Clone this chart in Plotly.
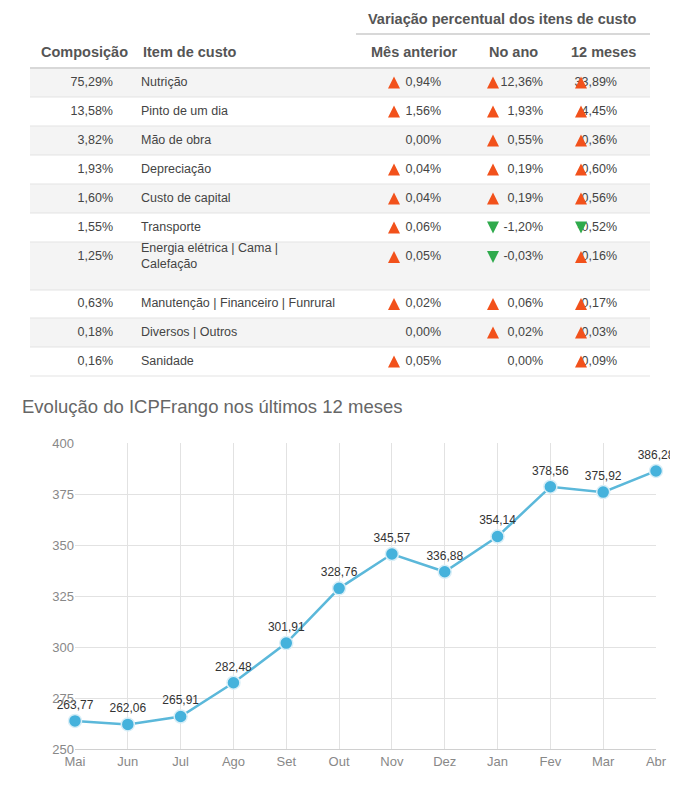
import plotly.graph_objects as go

# tabela de custos
composicao = ["75,29%", "13,58%", "3,82%", "1,93%", "1,60%", "1,55%", "1,25%", "0,63%", "0,18%", "0,16%"]
itens = ["Nutrição", "Pinto de um dia", "Mão de obra", "Depreciação", "Custo de capital", "Transporte",
         "Energia elétrica | Cama |<br>Calefação", "Manutenção | Financeiro | Funrural", "Diversos | Outros", "Sanidade"]
mes_anterior = [0.94, 1.56, 0.00, 0.04, 0.04, 0.06, 0.05, 0.02, 0.00, 0.05]
no_ano = [12.36, 1.93, 0.55, 0.19, 0.19, -1.20, -0.03, 0.06, 0.02, 0.00]
doze_meses = [33.89, 4.45, 0.36, 0.60, 0.56, -0.52, 0.16, 0.17, 0.03, 0.09]

# grafico
meses = ["Mai", "Jun", "Jul", "Ago", "Set", "Out", "Nov", "Dez", "Jan", "Fev", "Mar", "Abr"]
icp = [263.77, 262.06, 265.91, 282.48, 301.91, 328.76, 345.57, 336.88, 354.14, 378.56, 375.92, 386.28]

FONT = "Liberation Sans"
W, H = 678, 786
TAB_H = 372

alturas = [29, 29, 29, 29, 29, 29, 48, 28, 29, 29]
topo = 60
centros, limites = [], [topo]
for i, h in enumerate(alturas):
    centros.append(topo + (h / 2 if i != 6 else 15))
    topo += h
    limites.append(topo)


def fmt(v):
    return ("%.2f" % v).replace(".", ",") + "%"


fig = go.Figure()
shapes = []
for i in range(len(alturas)):
    if i % 2 == 0:
        shapes.append(dict(type="rect", xref="x2", yref="y2", x0=22, x1=642, y0=limites[i], y1=limites[i + 1],
                           fillcolor="#f4f4f4", line_width=0, layer="below"))
    shapes.append(dict(type="line", xref="x2", yref="y2", x0=22, x1=642, y0=limites[i + 1], y1=limites[i + 1],
                       line=dict(color="#e3e3e3", width=1)))
shapes.append(dict(type="line", xref="x2", yref="y2", x0=22, x1=642, y0=60, y1=60, line=dict(color="#d8d8d8", width=2)))
shapes.append(dict(type="line", xref="x2", yref="y2", x0=348, x1=642, y0=26, y1=26, line=dict(color="#d8d8d8", width=2)))

cell = dict(family=FONT, size=12.5, color="#444")
fig.add_trace(go.Scatter(x=[105] * 10, y=centros, text=composicao, mode="text", textposition="middle left",
                         textfont=cell, xaxis="x2", yaxis="y2", hoverinfo="skip"))
fig.add_trace(go.Scatter(x=[133] * 10, y=centros, text=itens, mode="text", textposition="middle right",
                         textfont=cell, xaxis="x2", yaxis="y2", hoverinfo="skip"))

for vals, xv, xa in [(mes_anterior, 433, 386), (no_ano, 535, 485), (doze_meses, 609, 573)]:
    fig.add_trace(go.Scatter(x=[xv] * 10, y=centros, text=[fmt(v) for v in vals], mode="text",
                             textposition="middle left", textfont=cell, xaxis="x2", yaxis="y2", hoverinfo="skip"))
    # simbolos arrow tem a ponta no ponto: desloca meia altura
    for sinal, cor, simb, desl in [(1, "#f2511b", "arrow-up", -6), (-1, "#2faa4c", "arrow-down", 6)]:
        ys = [c + desl for c, v in zip(centros, vals) if v * sinal > 0]
        fig.add_trace(go.Scatter(x=[xa] * len(ys), y=ys, mode="markers", xaxis="x2", yaxis="y2", hoverinfo="skip",
                                 marker=dict(symbol=simb, size=12, color=cor, line=dict(width=0))))

head = dict(family=FONT, size=14.5, color="#555", weight="bold")
cabecalhos = [("Variação percentual dos itens de custo", 494, 11), ("Composição", 76, 44),
              ("Item de custo", 182, 44), ("Mês anterior", 406, 44), ("No ano", 505, 44), ("12 meses", 595, 44)]
annotations = [dict(text=t, x=x, y=y, xref="x2", yref="y2", showarrow=False, font=head) for t, x, y in cabecalhos]

fig.add_trace(go.Scatter(x=list(range(12)), y=icp, mode="lines+markers+text",
                         text=[("%.2f" % v).replace(".", ",") for v in icp],
                         textposition="top center", textfont=dict(family=FONT, size=12, color="#333"),
                         line=dict(color="#5bb8da", width=2.5),
                         marker=dict(size=13, color="#45b2dc", line=dict(color="#d8eef7", width=1.5)),
                         hoverinfo="skip"))
annotations.append(dict(text="Evolução do ICPFrango nos últimos 12 meses", x=12 / W, y=1 - 398 / H,
                        xref="paper", yref="paper", xanchor="left", showarrow=False,
                        font=dict(family=FONT, size=18.5, color="#666")))

fig.update_layout(
    width=W, height=H, margin=dict(l=0, r=0, t=0, b=0, autoexpand=False),
    paper_bgcolor="white", plot_bgcolor="white",
    showlegend=False, shapes=shapes, annotations=annotations,
    xaxis=dict(domain=[67 / W, 648 / W], range=[0, 11], tickvals=list(range(12)), ticktext=meses,
               showgrid=True, gridcolor="#e2e2e2", zeroline=False, showline=True, linecolor="#d0d0d0",
               tickfont=dict(family=FONT, size=13, color="#888"), anchor="y", automargin=False),
    yaxis=dict(domain=[1 - 741 / H, 1 - 435 / H], range=[250, 400], dtick=25, showgrid=True, gridcolor="#e2e2e2",
               zeroline=False, tickfont=dict(family=FONT, size=13, color="#888"), anchor="x", automargin=False),
    xaxis2=dict(domain=[0, 1], range=[0, W], visible=False, anchor="y2"),
    yaxis2=dict(domain=[1 - TAB_H / H, 1], range=[TAB_H, 0], visible=False, anchor="x2"),
)
fig.update_traces(cliponaxis=False)

fig.write_html("out.html")
